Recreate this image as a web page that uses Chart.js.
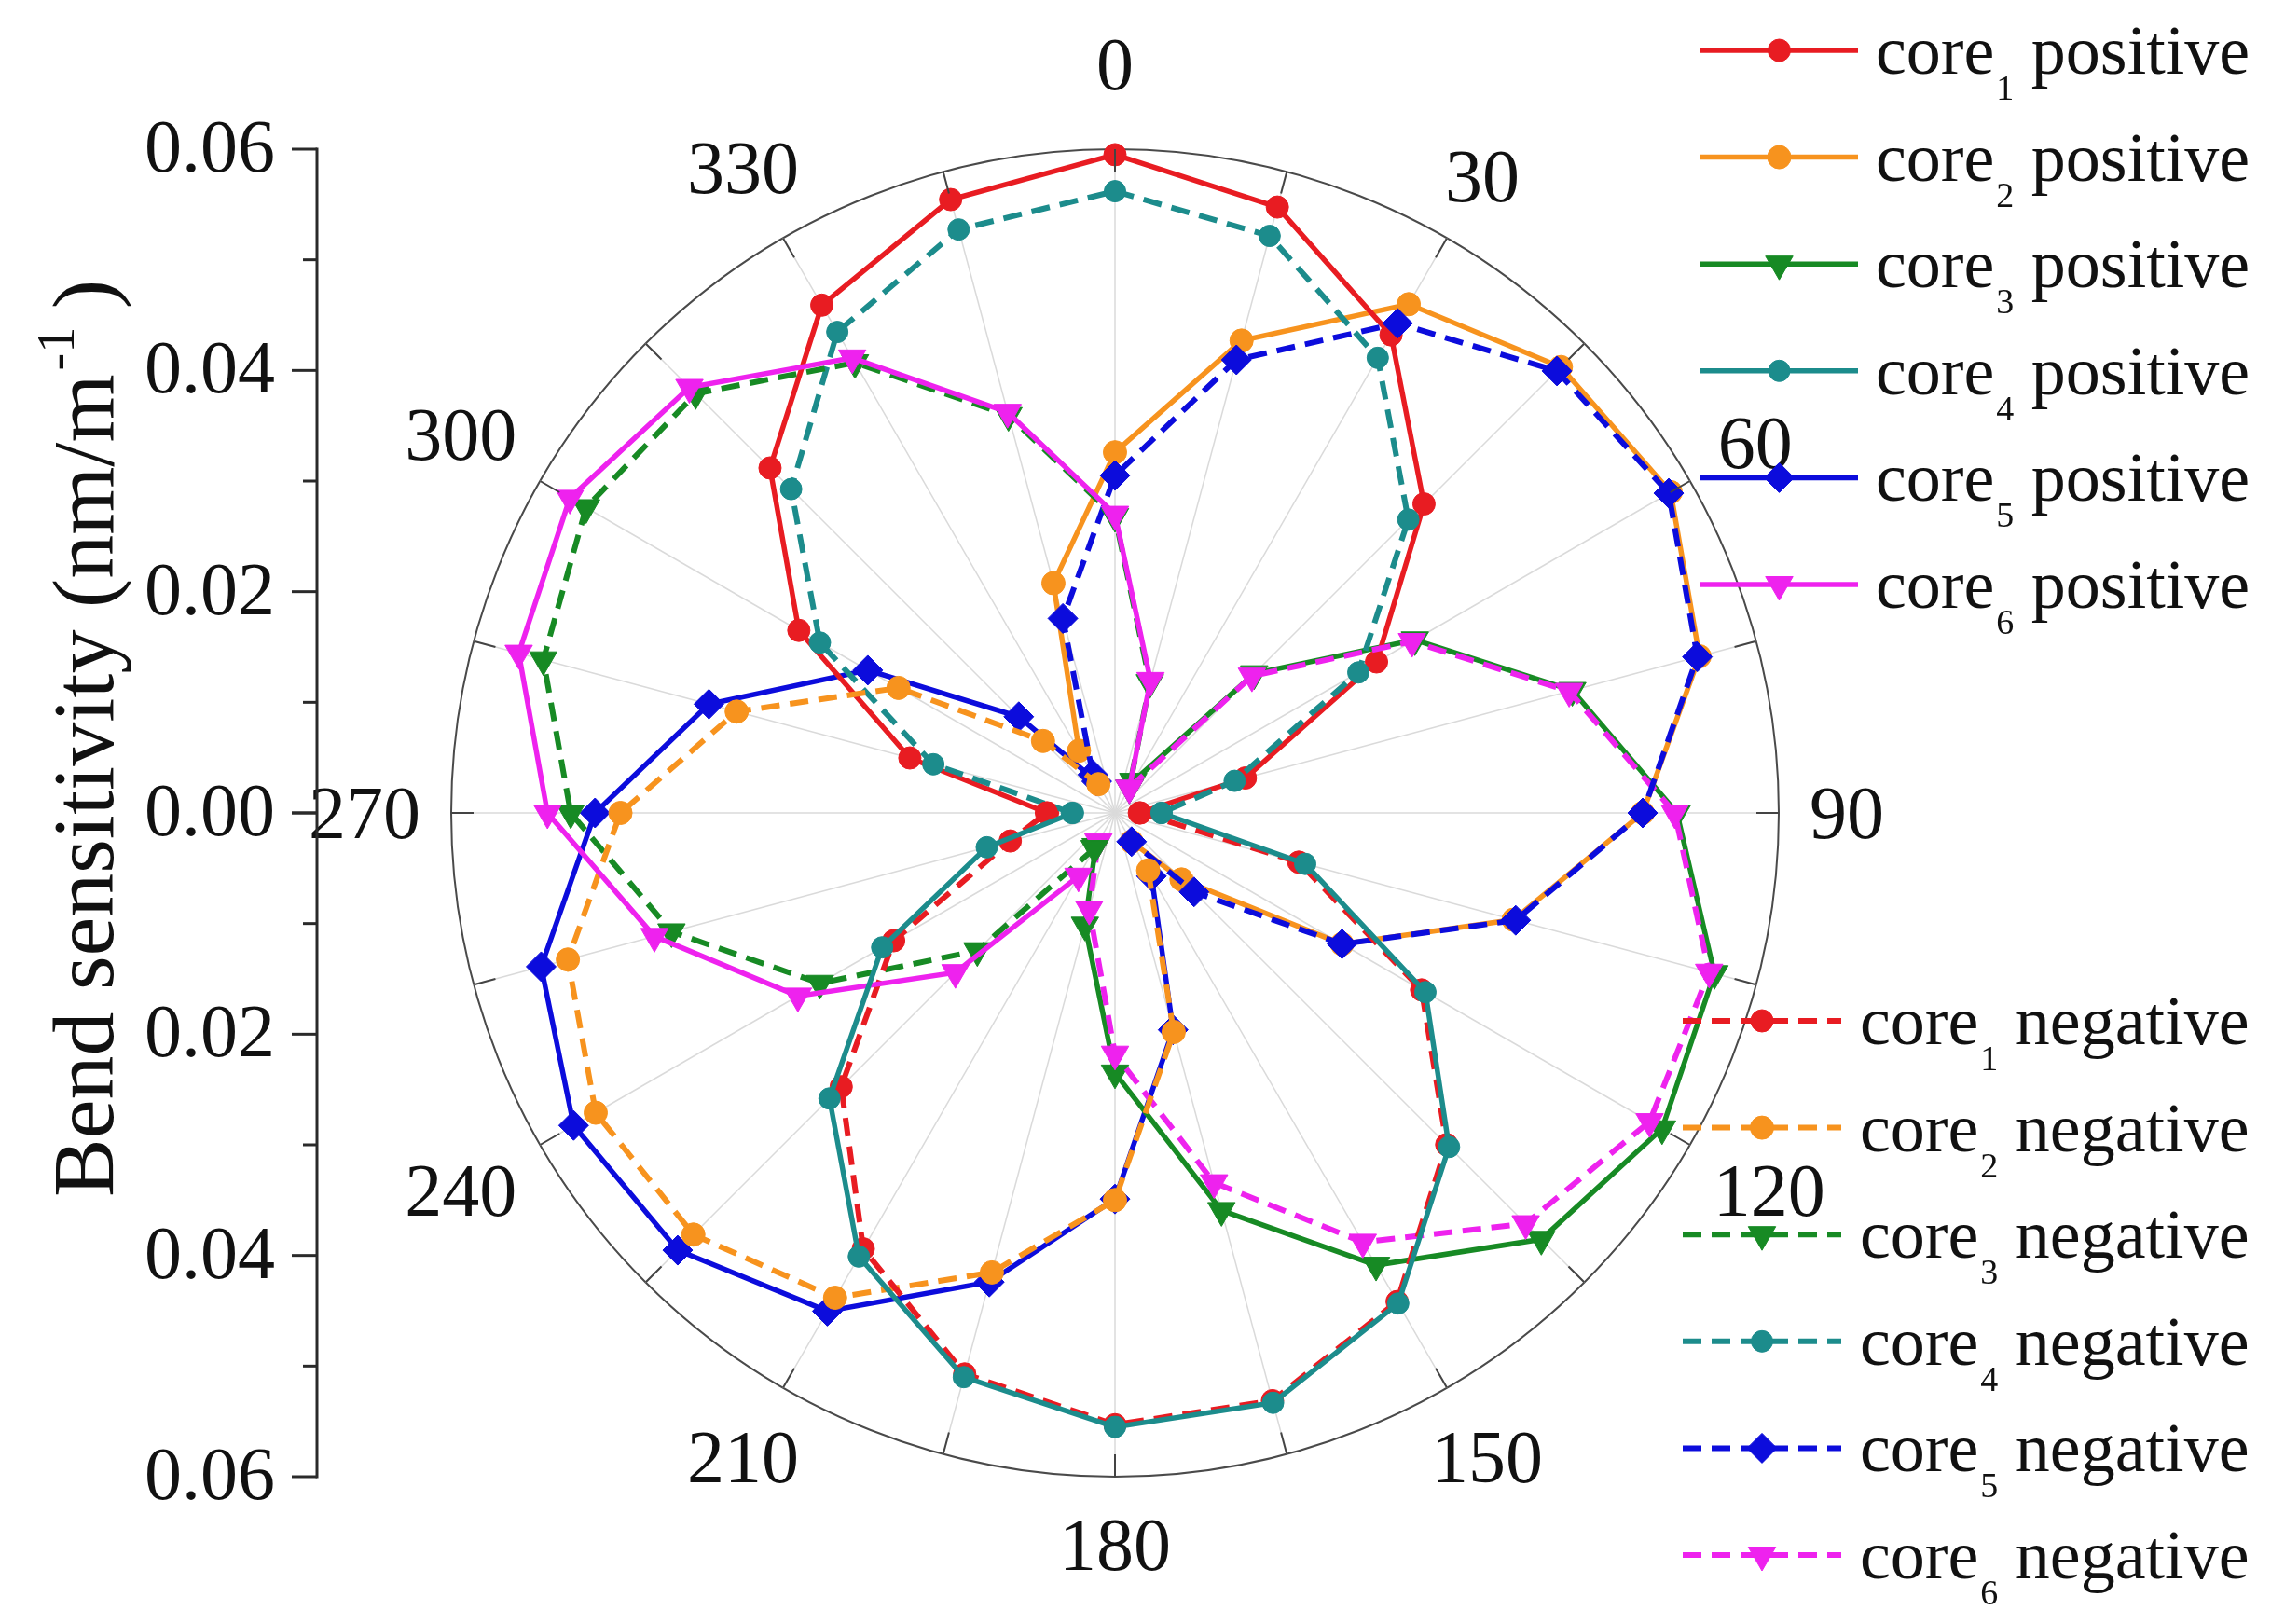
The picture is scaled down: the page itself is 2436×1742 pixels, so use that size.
<!DOCTYPE html>
<html lang="en">
<head>
    <meta charset="UTF-8">
    <title>Bend sensitivity of the six cores</title>
    <script src="https://cdn.jsdelivr.net/npm/chart.js"></script>
    <style>
        body {
            margin: 0;
            background: #ffffff;
        }
        canvas {
            display: block;
        }
    </style>
</head>
<body>
    <canvas id="bendChart" width="2436" height="1742"></canvas>

    <script>
        // bend directions, one point every 15 degrees
        const angles = ['0', '15', '30', '45', '60', '75', '90', '105', '120', '135', '150', '165',
                        '180', '195', '210', '225', '240', '255', '270', '285', '300', '315', '330', '345'];

        // bend sensitivity (nm/m^-1) per direction, null where a core has no value
        const core1Pos = [0.0595, 0.0567, 0.0499, 0.0395, 0.0273, 0.0122, 0.0022,
                          null, null, null, null, null, null, null, null, null, null, null,
                          0.0061, 0.0192, 0.0330, 0.0441, 0.0530, 0.0574];
        const core2Pos = [0.0326, 0.0442, 0.0531, 0.0570, 0.0580, 0.0547, 0.0477, 0.0373, 0.0237, 0.0085, 0.0030,
                          null, null, null, null, null, null, null, null, null, null, null,
                          0.0065, 0.0215];
        const core3Pos = [null, null,
                          0.0033, 0.0178, 0.0313, 0.0428, 0.0508, 0.0561, 0.0571, 0.0545, 0.0472, 0.0372, 0.0235, 0.0105, 0.0035,
                          null, null, null, null, null, null, null, null, null];
        const core4Pos = [null, null, null, null, null, null,
                          0.0042, 0.0178, 0.0324, 0.0427, 0.0512, 0.0552, 0.0555, 0.0528, 0.0463, 0.0365, 0.0243, 0.0120, 0.0038,
                          null, null, null, null, null];
        const core5Pos = [null, null, null, null, null, null, null, null, null, null,
                          0.0066, 0.0203, 0.0349, 0.0439, 0.0520, 0.0559, 0.0565, 0.0537, 0.0470, 0.0380, 0.0258, 0.0123, 0.0033,
                          null];
        const core6Pos = [0.0270, 0.0124, 0.0026,
                          null, null, null, null, null, null, null, null, null, null, null,
                          0.0066, 0.0204, 0.0331, 0.0431, 0.0513, 0.0558, 0.0569, 0.0544, 0.0475, 0.0375];

        const core1Neg = [null, null, null, null, null, null,
                          0.0023, 0.0172, 0.0320, 0.0424, 0.0510, 0.0550, 0.0553, 0.0525, 0.0455, 0.0350, 0.0231, 0.0098, 0.0062,
                          null, null, null, null, null];
        const core2Neg = [null, null, null, null, null, null, null, null, null, null,
                          0.0060, 0.0205, 0.0350, 0.0430, 0.0506, 0.0539, 0.0542, 0.0512, 0.0447, 0.0354, 0.0226, 0.0092, 0.0030,
                          null];
        const core3Neg = [0.0268, 0.0122, 0.0026,
                          null, null, null, null, null, null, null, null, null, null, null,
                          0.0037, 0.0176, 0.0308, 0.0415, 0.0492, 0.0535, 0.0552, 0.0536, 0.0470, 0.0372];
        const core4Neg = [0.0562, 0.0540, 0.0475, 0.0375, 0.0254, 0.0112, 0.0042,
                          null, null, null, null, null, null, null, null, null, null, null,
                          0.0039, 0.0170, 0.0308, 0.0414, 0.0502, 0.0546];
        const core5Neg = [0.0305, 0.0424, 0.0511, 0.0565, 0.0578, 0.0545, 0.0477, 0.0375, 0.0237, 0.0101, 0.0030,
                          null, null, null, null, null, null, null, null, null, null, null,
                          0.0040, 0.0182];
        const core6Neg = [null, null,
                          0.0026, 0.0175, 0.0310, 0.0425, 0.0506, 0.0556, 0.0558, 0.0525, 0.0448, 0.0346, 0.0218, 0.0090, 0.0030,
                          null, null, null, null, null, null, null, null, null];

        // left hand sensitivity axis
        const sideMajorTicks = [0, 0.02, 0.04, 0.06];
        const sideMinorTicks = [0.01, 0.03, 0.05];

        const coreNames = ['1', '2', '3', '4', '5', '6'];
        const positiveData = [core1Pos, core2Pos, core3Pos, core4Pos, core5Pos, core6Pos];
        const negativeData = [core1Neg, core2Neg, core3Neg, core4Neg, core5Neg, core6Neg];

        const coreColors = ['#e81c22', '#f7931e', '#178a24', '#1c8c8c', '#0c0cdc', '#ee22ee'];
        const coreMarkers = [
            { style: 'circle', radius: 12, rotation: 0 },
            { style: 'circle', radius: 12.5, rotation: 0 },
            { style: 'triangle', radius: 17, rotation: 180 },
            { style: 'circle', radius: 11.5, rotation: 0 },
            { style: 'rectRot', radius: 16, rotation: 0 },
            { style: 'triangle', radius: 17, rotation: 180 }
        ];
        // drawing order: lower is painted later (on top)
        const positiveOrder = [1, 1, 1, -1, 1, -1];

        const serif = "'Liberation Serif', 'Times New Roman', serif";

        function makeDataset(i, sign, values) {
            const dashed = sign === 'negative';
            return {
                label: 'core' + coreNames[i] + ' ' + sign,
                data: values,
                borderColor: coreColors[i],
                backgroundColor: coreColors[i],
                borderWidth: dashed ? 6 : 5.5,
                borderDash: dashed ? [20, 11] : [],
                pointStyle: coreMarkers[i].style,
                pointRadius: coreMarkers[i].radius,
                pointRotation: coreMarkers[i].rotation,
                pointBackgroundColor: coreColors[i],
                pointBorderColor: coreColors[i],
                pointBorderWidth: 1,
                fill: false,
                spanGaps: false,
                order: dashed ? 0 : positiveOrder[i]
            };
        }

        const datasets = [];
        positiveData.forEach((d, i) => datasets.push(makeDataset(i, 'positive', d)));
        negativeData.forEach((d, i) => datasets.push(makeDataset(i, 'negative', d)));

        // short ticks on the outer ring and the angle labels every 30 degrees
        const polarFrame = {
            id: 'polarFrame',
            afterDatasetsDraw(chart) {
                const r = chart.scales.r;
                const ctx = chart.ctx;
                const outer = r.getDistanceFromCenterForValue(r.max);
                ctx.save();
                ctx.strokeStyle = '#444444';
                ctx.lineWidth = 2;
                chart.data.labels.forEach((lab, i) => {
                    const a = r.getPointPosition(i, outer);
                    const b = r.getPointPosition(i, outer - 24);
                    ctx.beginPath();
                    ctx.moveTo(a.x, a.y);
                    ctx.lineTo(b.x, b.y);
                    ctx.stroke();
                });

                ctx.fillStyle = '#111111';
                ctx.font = '80px ' + serif;
                ctx.textAlign = 'center';
                ctx.textBaseline = 'alphabetic';
                const capH = 53;
                chart.data.labels.forEach((lab, i) => {
                    if (Number(lab) % 30 !== 0) return;
                    const ang = r.getIndexAngle(i);
                    const w = ctx.measureText(lab).width;
                    let gap = 33;
                    if (lab === '0') gap = 64;
                    if (lab === '180') gap = 47;
                    const ext = Math.abs(Math.sin(ang)) * w / 2 + Math.abs(Math.cos(ang)) * capH / 2;
                    const p = r.getPointPosition(i, outer + gap + ext);
                    ctx.fillText(lab, p.x, p.y + capH / 2);
                });
                ctx.restore();
            }
        };

        // vertical sensitivity axis mirrored about the pole, plus its title
        const sideAxis = {
            id: 'sideAxis',
            afterDraw(chart) {
                const r = chart.scales.r;
                const ctx = chart.ctx;
                const x = 340;
                const outer = r.getDistanceFromCenterForValue(r.max);
                ctx.save();
                ctx.strokeStyle = '#2a2a2a';
                ctx.lineWidth = 3;
                ctx.beginPath();
                ctx.moveTo(x, r.yCenter - outer - 1.5);
                ctx.lineTo(x, r.yCenter + outer + 1.5);
                ctx.stroke();

                ctx.fillStyle = '#111111';
                ctx.font = '80px ' + serif;
                ctx.textAlign = 'right';
                ctx.textBaseline = 'alphabetic';
                [-1, 1].forEach(dir => {
                    sideMajorTicks.forEach(v => {
                        const y = r.yCenter + dir * r.getDistanceFromCenterForValue(v);
                        ctx.beginPath();
                        ctx.moveTo(x - 27, y);
                        ctx.lineTo(x, y);
                        ctx.stroke();
                        if (v !== 0 || dir === -1) {
                            ctx.fillText(v.toFixed(2), x - 45, y + 24);
                        }
                    });
                    sideMinorTicks.forEach(v => {
                        const y = r.yCenter + dir * r.getDistanceFromCenterForValue(v);
                        ctx.beginPath();
                        ctx.moveTo(x - 15, y);
                        ctx.lineTo(x, y);
                        ctx.stroke();
                    });
                });

                // title: Bend sensitivity (nm/m^-1)
                const main = 'Bend sensitivity (nm/m';
                const sup = '-1';
                const tail = ' )';
                ctx.translate(88, 792);
                ctx.rotate(-Math.PI / 2);
                ctx.textAlign = 'left';
                ctx.font = '94px ' + serif;
                const w1 = ctx.measureText(main).width;
                const w3 = ctx.measureText(tail).width;
                ctx.font = '56px ' + serif;
                const w2 = ctx.measureText(sup).width;
                let cx = -(w1 + w2 + w3) / 2;
                ctx.font = '94px ' + serif;
                ctx.fillText(main, cx, 33);
                cx += w1;
                ctx.font = '56px ' + serif;
                ctx.fillText(sup, cx + 4, 33 - 42);
                cx += w2;
                ctx.font = '94px ' + serif;
                ctx.fillText(tail, cx, 33);
                ctx.restore();
            }
        };

        // two blocks of legend entries with subscripted core numbers
        const coreLegend = {
            id: 'coreLegend',
            afterDraw(chart) {
                const ctx = chart.ctx;
                const blocks = [
                    { sign: 'positive', lineFrom: 1824, lineTo: 1993, textX: 2012, top: 54 },
                    { sign: 'negative', lineFrom: 1805, lineTo: 1975, textX: 1995, top: 1095 }
                ];
                const step = 114.6;
                ctx.save();
                blocks.forEach(b => {
                    const items = chart.data.datasets.filter(ds => ds.label.endsWith(b.sign));
                    items.forEach((ds, k) => {
                        const y = b.top + k * step;
                        ctx.strokeStyle = ds.borderColor;
                        ctx.lineWidth = ds.borderWidth;
                        ctx.setLineDash(ds.borderDash);
                        ctx.beginPath();
                        ctx.moveTo(b.lineFrom, y);
                        ctx.lineTo(b.lineTo, y);
                        ctx.stroke();
                        ctx.setLineDash([]);
                        ctx.fillStyle = ds.pointBackgroundColor;
                        ctx.strokeStyle = ds.pointBorderColor;
                        ctx.lineWidth = 1;
                        Chart.helpers.drawPoint(ctx, {
                            pointStyle: ds.pointStyle,
                            rotation: ds.pointRotation,
                            radius: ds.pointRadius,
                            borderWidth: 1
                        }, (b.lineFrom + b.lineTo) / 2, y);

                        const m = ds.label.match(/^core(\d) (\w+)$/);
                        ctx.fillStyle = '#111111';
                        ctx.textAlign = 'left';
                        ctx.textBaseline = 'alphabetic';
                        let tx = b.textX;
                        ctx.font = '74px ' + serif;
                        ctx.fillText('core', tx, y + 25);
                        tx += ctx.measureText('core').width + 2;
                        ctx.font = '38px ' + serif;
                        ctx.fillText(m[1], tx, y + 53);
                        tx += ctx.measureText(m[1]).width;
                        ctx.font = '74px ' + serif;
                        ctx.fillText(' ' + m[2], tx, y + 25);
                    });
                });
                ctx.restore();
            }
        };

        const ctx = document.getElementById('bendChart').getContext('2d');
        new Chart(ctx, {
            type: 'radar',
            data: {
                labels: angles,
                datasets: datasets
            },
            options: {
                responsive: false,
                animation: false,
                events: [],
                layout: {
                    padding: { left: 484, right: 528, top: 160, bottom: 158 }
                },
                elements: {
                    line: { tension: 0 }
                },
                plugins: {
                    legend: { display: false },
                    tooltip: { enabled: false }
                },
                scales: {
                    r: {
                        min: 0,
                        max: 0.06,
                        ticks: { display: false, stepSize: 0.01 },
                        pointLabels: { display: false },
                        grid: {
                            circular: true,
                            lineWidth: 2,
                            color: c => (c.tick && c.tick.value > 0.0595 ? '#4a4a4a' : 'rgba(0,0,0,0)')
                        },
                        angleLines: {
                            display: true,
                            color: '#dadada',
                            lineWidth: 1.5
                        }
                    }
                }
            },
            plugins: [polarFrame, sideAxis, coreLegend]
        });
    </script>
</body>
</html>
